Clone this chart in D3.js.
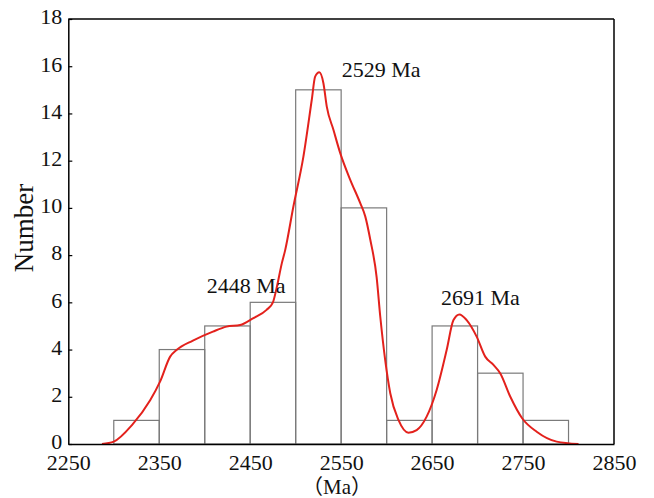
<!DOCTYPE html>
<html><head><meta charset="utf-8">
<script src="https://cdn.jsdelivr.net/npm/d3@7"></script>
<style>
html,body{margin:0;padding:0;background:#fff;}
svg{display:block;}
text{font-family:"Times New Roman","Liberation Serif",serif;fill:#111;}
</style></head>
<body>
<script>
// Histogram bins (Ma) and counts
const binStarts = [2300,2350,2400,2450,2500,2550,2600,2650,2700,2750];
const binWidth = 50;
const counts = [1,4,5,6,15,10,1,5,3,1];
// Probability density curve, in count units
const curveAge = [2287,2300,2320,2340,2351,2362,2369,2387,2409,2424,2439,2453,2468,2475,2479,2484.8,2488.4,2497.5,2508.5,2517.7,2521.4,2526,2530.5,2534.2,2541.5,2549,2560,2571,2576.5,2582,2589,2593,2598.4,2604,2613,2624,2633,2644,2655,2666,2673.5,2680,2688,2699,2708.4,2717.5,2725,2736,2749,2765,2787,2811];
const curveVal = [0,0.1,0.8,1.85,2.65,3.7,3.98,4.38,4.76,4.97,5.04,5.32,5.68,6.0,6.6,7.66,8.2,10.06,12.17,14.58,15.56,15.74,15.28,14.29,13.31,12.32,11.19,10.2,9.64,8.66,7.07,5.4,3.56,2.15,1.02,0.48,0.59,1.16,2.29,3.98,5.25,5.49,5.25,4.55,3.7,3.35,2.99,2.0,1.09,0.52,0.1,0];
const xTicks = [2250,2350,2450,2550,2650,2750,2850];
const yTicks = [0,2,4,6,8,10,12,14,16,18];
const peakLabels = ["2448 Ma","2529 Ma","2691 Ma"];

const W=654,H=498;
const svg=d3.select("body").append("svg").attr("width",W).attr("height",H);
const x=d3.scaleLinear().domain([2250,2850]).range([68.3,614]);
const y=d3.scaleLinear().domain([0,18]).range([444,19]);

// bars
svg.append("g").selectAll("rect").data(binStarts).join("rect")
  .attr("x",d=>x(d)).attr("width",d=>x(d+binWidth)-x(d))
  .attr("y",(d,i)=>y(counts[i])).attr("height",(d,i)=>y(0)-y(counts[i]))
  .attr("fill","none").attr("stroke","#7a7a7a").attr("stroke-width",1.2);

// curve
const pts=curveAge.map((a,i)=>[a,curveVal[i]]);
svg.append("path").datum(pts)
  .attr("d",d3.line().x(d=>x(d[0])).y(d=>y(d[1])).curve(d3.curveMonotoneX))
  .attr("fill","none").attr("stroke","#e3211c").attr("stroke-width",2);

// frame
svg.append("line").attr("x1",x(2250)).attr("x2",x(2850)).attr("y1",y(18)).attr("y2",y(18)).attr("stroke","#000").attr("stroke-width",1.5);
svg.append("line").attr("x1",x(2850)).attr("x2",x(2850)).attr("y1",y(18)).attr("y2",y(0)).attr("stroke","#000").attr("stroke-width",1.5);

// y axis
const ya=svg.append("g").attr("transform",`translate(${x(2250)},0)`)
  .call(d3.axisLeft(y).tickValues(yTicks).tickSize(-4).tickPadding(6).tickSizeOuter(0));
ya.select(".domain").attr("stroke","#000").attr("stroke-width",1.5);
ya.selectAll(".tick line").attr("stroke","#000").attr("stroke-width",1.2);
ya.selectAll(".tick text").attr("font-size",22).attr("font-family",'"Times New Roman","Liberation Serif",serif').attr("fill","#111").attr("dy","0.22em");

// x axis
const xa=svg.append("g").attr("transform",`translate(0,${y(0)})`)
  .call(d3.axisBottom(x).tickValues(xTicks).tickSize(0).tickPadding(10).tickSizeOuter(0).tickFormat(d3.format("d")));
xa.select(".domain").attr("stroke","#000").attr("stroke-width",1.5);
xa.selectAll(".tick text").attr("font-size",22).attr("font-family",'"Times New Roman","Liberation Serif",serif').attr("fill","#111");

// axis labels
svg.append("text").attr("transform","translate(33,228) rotate(-90)")
  .attr("text-anchor","middle").attr("font-size",27).text("Number");
svg.append("text").attr("x",337).attr("y",494).attr("text-anchor","middle")
  .attr("font-size",21).style("font-family",'"Times New Roman","Liberation Serif","Noto Sans CJK SC",serif').text("（Ma）");

// peak annotations
const annPos=[[206.7,293.3],[341.7,77.3],[441,305]];
svg.append("g").selectAll("text").data(peakLabels).join("text")
  .attr("x",(d,i)=>annPos[i][0]).attr("y",(d,i)=>annPos[i][1])
  .attr("font-size",22).text(d=>d);
</script>
</body></html>
